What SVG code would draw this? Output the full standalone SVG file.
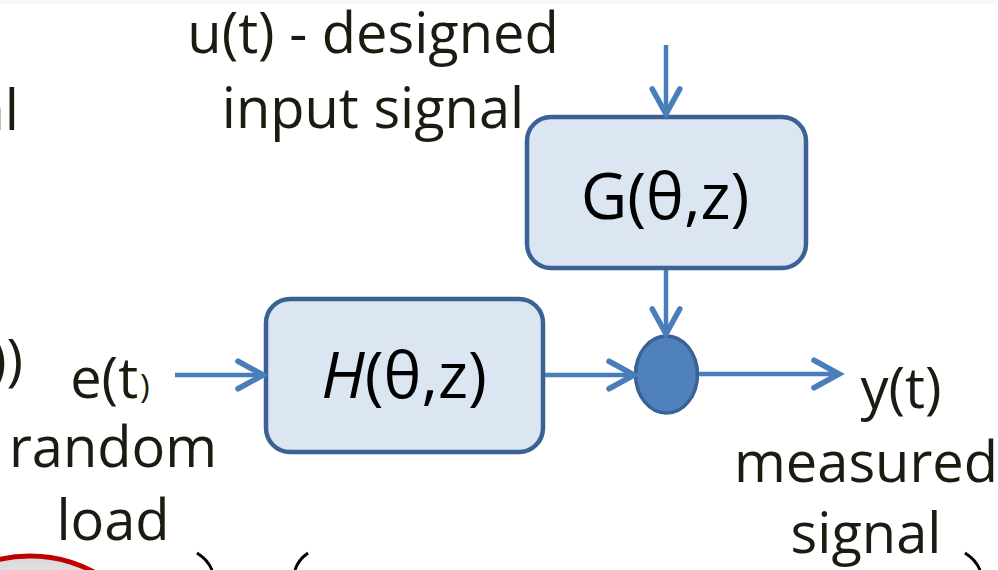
<svg xmlns="http://www.w3.org/2000/svg" width="998" height="570" viewBox="0 0 998 570">
<defs>
<style>
.lbl{font-family:"Open Sans","Liberation Sans",sans-serif;font-size:56px;fill:#1d1b11;text-anchor:middle}
.box{fill:#dce6f2;stroke:#3b6294;stroke-width:4.5}
.bt{font-family:"Open Sans","Liberation Sans",sans-serif;font-size:64px;fill:#000;text-anchor:middle}
.cn{stroke:#4a7ebb;stroke-width:4.5;fill:none;marker-end:url(#ah)}
.br{fill:none;stroke:#000;stroke-width:3}
</style>
<marker id="ah" markerUnits="userSpaceOnUse" markerWidth="40" markerHeight="40" viewBox="-26 -16 32 32" refX="0" refY="0" orient="auto" overflow="visible">
<path d="M-20,-11 L0,0 L-20,11" fill="none" stroke="#4a7ebb" stroke-width="4.5" stroke-linecap="round"/>
</marker>
<linearGradient id="gr" x1="0" y1="0" x2="0" y2="1">
<stop offset="0" stop-color="#d8d8d8"/>
<stop offset="0.3" stop-color="#f2f2f2"/>
</linearGradient>
</defs>
<rect x="0" y="0" width="998" height="570" fill="#fff"/>
<rect x="0" y="0" width="998" height="4" fill="#fbf7f7"/>

<!-- partial background elements -->
<g id="fragments">
<text class="lbl" x="19" y="130" style="text-anchor:end">signal</text>
<text class="lbl" x="23" y="380" style="text-anchor:end">θ))</text>
<ellipse cx="30" cy="642" rx="110" ry="86" fill="url(#gr)" stroke="#c00000" stroke-width="5"/>
<path class="br" d="M197,553 Q208,560 212,570"/>
<path class="br" d="M308,553 Q298,560 295,570"/>
<path class="br" d="M965,553 Q976,560 980,570"/>
</g>

<g id="label-u">
<text class="lbl" x="373" y="53">u(t) - designed</text>
<text class="lbl" x="373" y="128">input signal</text>
</g>

<g id="label-e">
<text class="lbl" x="110" y="398">e(t<tspan font-size="33" dx="2">)</tspan></text>
<text class="lbl" x="113" y="467">random</text>
<text class="lbl" x="113" y="540">load</text>
</g>

<g id="label-y">
<text class="lbl" x="901" y="408">y(t)</text>
<text class="lbl" x="866" y="482">measured</text>
<text class="lbl" x="866" y="553">signal</text>
</g>

<g id="node-G">
<rect class="box" x="527" y="117" width="279" height="151" rx="24" ry="24"/>
<text class="bt" x="665" y="219">G(θ,z)</text>
</g>

<g id="node-H">
<rect class="box" x="266" y="299" width="277" height="153" rx="24" ry="24"/>
<text class="bt" x="404" y="398"><tspan font-style="italic">H</tspan>(θ,z)</text>
</g>

<g id="node-sum">
<ellipse cx="666.5" cy="374.5" rx="31" ry="38.5" fill="#4f81bd" stroke="#3b6294" stroke-width="3.5"/>
</g>

<g id="connectors">
<line class="cn" x1="666" y1="45" x2="666" y2="114"/>
<line class="cn" x1="666" y1="270" x2="666" y2="334"/>
<line class="cn" x1="175" y1="375" x2="263" y2="375"/>
<line class="cn" x1="545" y1="375" x2="634" y2="375"/>
<line class="cn" x1="699" y1="374" x2="839" y2="374"/>
</g>
</svg>
